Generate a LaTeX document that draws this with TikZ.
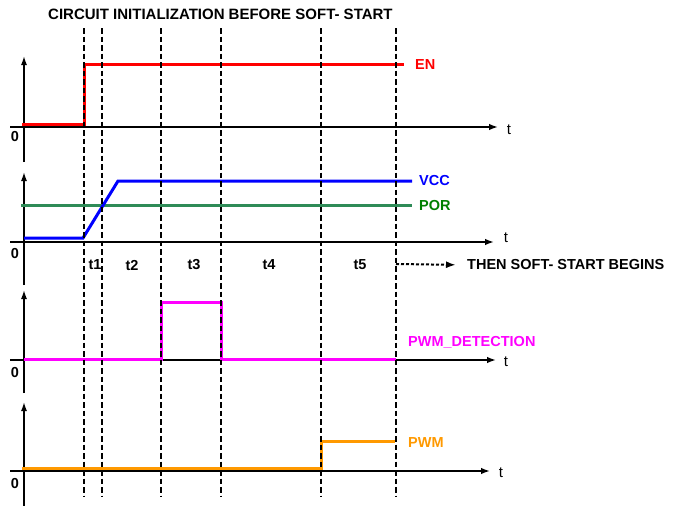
\documentclass[tikz,border=0pt]{standalone}
\usepackage{fontspec}
\setmainfont{Liberation Sans}
\usetikzlibrary{arrows.meta}
\definecolor{enred}{RGB}{255,0,0}
\definecolor{vccblue}{RGB}{0,0,255}
\definecolor{porgreen}{RGB}{46,139,87}
\definecolor{portext}{RGB}{0,128,0}
\definecolor{detmagenta}{RGB}{255,0,255}
\definecolor{pwmorange}{RGB}{255,153,0}
\begin{document}
\begin{tikzpicture}[x=1pt,y=-1pt,
  axis/.style={line width=1.5pt,-{Latex[length=9pt,width=6.5pt]}},
  yaxis/.style={line width=1.5pt,-{Latex[length=9pt,width=6pt]}},
  guide/.style={line width=2pt,dash pattern=on 5.5pt off 3pt},
  sig/.style={line width=3pt},
  lbl/.style={font=\fontsize{14.5}{16}\selectfont\bfseries,inner sep=0pt},
  tlbl/.style={font=\fontsize{15}{16}\selectfont,inner sep=0pt}]
\useasboundingbox (0,0) rectangle (678,506);
% title
\node[lbl,font=\fontsize{15}{17}\selectfont\bfseries,anchor=west] (title) at (48,14) {CIRCUIT INITIALIZATION BEFORE SOFT- START};
% EN panel
\draw[yaxis] (24,162) -- (24,56);
\draw[axis] (10,127) -- (498,127);
\node[tlbl] (t1ax) at (509,130) {t};
\node[lbl] (z1) at (15,137) {0};
\draw[sig,enred] (22,124) -- (84,124) -- (84,64) -- (404,64);
\node[lbl,enred,anchor=west] (en) at (415,65) {EN};
% VCC / POR panel
\draw[yaxis] (24,285) -- (24,172);
\draw[axis] (10,242) -- (494,242);
\node[tlbl] (t2ax) at (506,238) {t};
\node[lbl] (z2) at (15,254) {0};
\draw[sig,porgreen] (21,205) -- (412,205);
\draw[sig,vccblue] (24,238) -- (83,238) -- (118,181) -- (412,181);
\node[lbl,vccblue,anchor=west] (vcc) at (419,181) {VCC};
\node[lbl,portext,anchor=west] (por) at (419,206) {POR};
% phase labels
\node[lbl] (p1) at (95,265) {t1};
\node[lbl] (p2) at (132,265) {t2};
\node[lbl] (p3) at (194,265) {t3};
\node[lbl] (p4) at (269,265) {t4};
\node[lbl] (p5) at (360,265) {t5};
\coordinate (ss) at (396,264);
\node[lbl,anchor=west] (soft) at (467,265) {THEN SOFT- START BEGINS};
\draw[line width=2pt,dash pattern=on 3pt off 2pt,-{Latex[length=10pt,width=7pt]},shorten >=11pt] (ss) -- (soft.west);
% PWM_DETECTION panel
\draw[yaxis] (24,393) -- (24,290);
\draw[axis] (10,360) -- (496,360);
\node[tlbl] (t3ax) at (506,362) {t};
\node[lbl] (z3) at (15,373) {0};
\draw[sig,detmagenta] (24,359) -- (161,359) -- (161,302) -- (221,302) -- (221,359) -- (396,359);
\node[lbl,detmagenta,anchor=west] (det) at (408,342) {PWM\_DETECTION};
% PWM panel
\draw[yaxis] (24,506) -- (24,402);
\draw[axis] (10,471) -- (490,471);
\node[tlbl] (t4ax) at (501,473) {t};
\node[lbl] (z4) at (15,484) {0};
\draw[sig,pwmorange] (22,468) -- (321,468) -- (321,441) -- (395,441);
\node[lbl,pwmorange,anchor=west] (pwm) at (408,443) {PWM};
% phase boundaries
\draw[guide] (84,28) -- (84,496);
\draw[guide] (102,28) -- (102,496);
\draw[guide] (161,28) -- (161,496);
\draw[guide] (221,28) -- (221,496);
\draw[guide] (321,28) -- (321,496);
\draw[guide] (396,28) -- (396,496);
\end{tikzpicture}
\end{document}
